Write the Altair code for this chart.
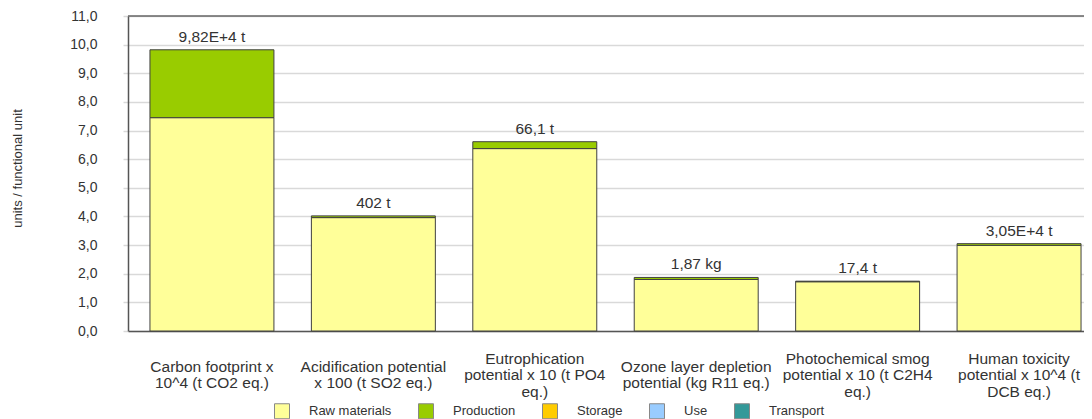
import altair as alt
import pandas as pd

categories = [
    "Carbon footprint x|10^4 (t CO2 eq.)",
    "Acidification potential|x 100 (t SO2 eq.)",
    "Eutrophication|potential x 10 (t PO4|eq.)",
    "Ozone layer depletion|potential (kg R11 eq.)",
    "Photochemical smog|potential x 10 (t C2H4|eq.)",
    "Human toxicity|potential x 10^4 (t|DCB eq.)",
]
stages = ["Raw materials", "Production", "Storage", "Use", "Transport"]
stage_colors = ["#FFFF99", "#99CC00", "#FFCC00", "#99CCFF", "#339999"]

raw_materials = [7.45, 3.96, 6.37, 1.80, 1.72, 2.99]
production = [2.37, 0.06, 0.24, 0.07, 0.02, 0.06]
storage = [0, 0, 0, 0, 0, 0]
use = [0, 0, 0, 0, 0, 0]
transport = [0, 0, 0, 0, 0, 0]

totals = [9.82, 4.02, 6.61, 1.87, 1.74, 3.05]
total_labels = ["9,82E+4 t", "402 t", "66,1 t", "1,87 kg", "17,4 t", "3,05E+4 t"]
y_ticks = [0, 1, 2, 3, 4, 5, 6, 7, 8, 9, 10, 11]

series = [raw_materials, production, storage, use, transport]
rows = []
for si, (stage, vals) in enumerate(zip(stages, series)):
    for cat, v in zip(categories, vals):
        if v > 0:
            rows.append({"cat": cat, "stage": stage, "idx": si, "value": v})
df = pd.DataFrame(rows)
tot = pd.DataFrame({"cat": categories, "total": totals, "label": total_labels})
top = pd.DataFrame({"top": [11]})

FONT = "Liberation Sans"
YTITLE = "units / functional unit"

x_scale = alt.Scale(range=[0, 975], paddingInner=0.232, paddingOuter=0.136)
y_scale = alt.Scale(domain=[0, 11], nice=False, zero=True)

x_axis = alt.Axis(
    title=None,
    labelExpr="split(datum.label, '|')",
    labelAngle=0,
    labelFontSize=15.5,
    labelLineHeight=16.5,
    labelBaseline="middle",
    labelPadding={
        "condition": {"test": "length(split(datum.label, '|')) > 2", "value": 27},
        "value": 35,
    },
    labelColor="#333",
    labelLimit=0,
    labelOverlap=False,
    ticks=False,
    grid=False,
    domainColor="#555",
    domainWidth=1.5,
)
y_axis = alt.Axis(
    title=YTITLE,
    values=y_ticks,
    labelExpr="replace(format(datum.value, '.1f'), '.', ',')",
    labelOverlap=False,
    labelFontSize=14,
    labelColor="#333",
    labelPadding=26,
    tickSize=5,
    tickColor="#d9d9d9",
    tickWidth=1.5,
    gridColor="#d9d9d9",
    gridWidth=1.5,
    domainColor="#555",
    domainWidth=1.5,
    titleFontSize=13,
    titleFontWeight="normal",
    titleColor="#333",
    titlePadding=45,
    titleY=152,
)

bars = alt.Chart(df).mark_bar(stroke="#404040", strokeWidth=1).encode(
    x=alt.X("cat:N", sort=categories, scale=x_scale, axis=x_axis),
    y=alt.Y("value:Q", stack="zero", scale=y_scale, axis=y_axis),
    color=alt.Color(
        "stage:N",
        scale=alt.Scale(domain=stages, range=stage_colors),
        legend=alt.Legend(
            title=None,
            orient="none",
            direction="horizontal",
            legendX=146,
            legendY=387,
            symbolType="square",
            symbolSize=225,
            symbolStrokeColor="#888",
            symbolStrokeWidth=1,
            labelFontSize=13,
            labelColor="#333",
            labelOffset=19,
            columnPadding=24,
        ),
    ),
    order=alt.Order("idx:Q"),
)

labels = alt.Chart(tot).mark_text(
    dy=-8, baseline="alphabetic", fontSize=15.5, color="#333", font=FONT
).encode(
    x=alt.X("cat:N", sort=categories, scale=x_scale, axis=x_axis),
    y=alt.Y("total:Q", scale=y_scale, axis=y_axis),
    text="label:N",
)

top_rule = alt.Chart(top).mark_rule(color="#666", strokeWidth=1.5).encode(
    y=alt.Y("top:Q", scale=y_scale, axis=y_axis)
)

chart = (
    alt.layer(bars, labels, top_rule)
    .properties(
        width=956,
        height=315,
        autosize=alt.AutoSizeParams(type="none"),
        padding={"left": 120, "top": 8, "right": 0, "bottom": 88},
    )
    .configure(font=FONT)
    .configure_view(stroke=None)
)

chart.save("out.html", embed_options={"renderer": "svg", "actions": False})
